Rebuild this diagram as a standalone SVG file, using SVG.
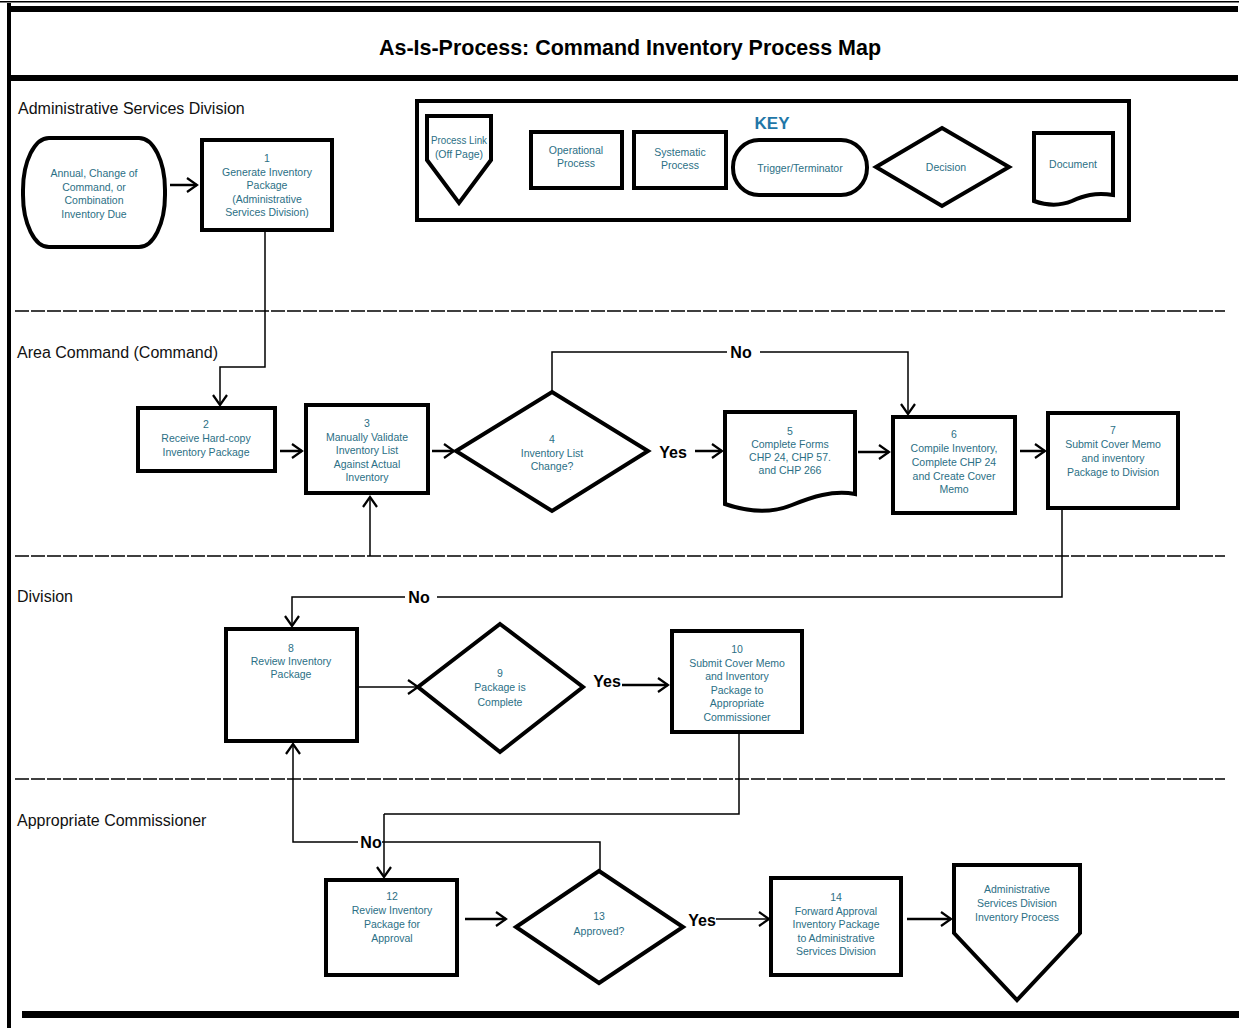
<svg xmlns="http://www.w3.org/2000/svg" width="1239" height="1028" viewBox="0 0 1239 1028">
<style>
.nd{fill:#fff;stroke:#000;stroke-width:4;stroke-linejoin:miter}
.t{font-family:"Liberation Sans",Arial,sans-serif;font-size:10.5px;fill:#2b6f85;text-anchor:middle}
.lane{font-family:"Liberation Sans",Arial,sans-serif;font-size:16px;fill:#111}
.lbl{font-family:"Liberation Sans",Arial,sans-serif;font-size:16px;font-weight:bold;fill:#000;text-anchor:middle}
.c{fill:none;stroke:#000;stroke-width:1.5}
.ca{fill:none;stroke:#000;stroke-width:1.5;marker-end:url(#ah)}
.a{fill:none;stroke:#000;stroke-width:2.5;marker-end:url(#ah)}
.sep{stroke:#000;stroke-width:1.5;stroke-dasharray:14 2}
.bar{fill:#000}
</style>
<defs>
<marker id="ah" markerUnits="userSpaceOnUse" markerWidth="14" markerHeight="16" refX="11" refY="8" orient="auto">
<path d="M1,1 L11,8 L1,15" fill="none" stroke="#000" stroke-width="2.2"/>
</marker>
</defs>
<rect width="1239" height="1028" fill="#fff"/>
<!-- frame -->
<g id="frame">
<rect class="bar" x="0" y="1" width="1239" height="1.5"/>
<rect class="bar" x="10" y="6" width="1228" height="6"/>
<rect class="bar" x="10" y="75" width="1228" height="6"/>
<rect class="bar" x="7" y="3" width="4" height="1025"/>
<rect class="bar" x="22" y="1011" width="1217" height="7"/>
<text x="630" y="55" text-anchor="middle" font-family="'Liberation Sans',Arial,sans-serif" font-size="22" font-weight="bold" fill="#000" textLength="502" lengthAdjust="spacingAndGlyphs">As-Is-Process: Command Inventory Process Map</text>
</g>
<!-- lanes -->
<g id="lanes">
<line class="sep" x1="15" y1="311" x2="1225" y2="311"/>
<line class="sep" x1="15" y1="556" x2="1225" y2="556"/>
<line class="sep" x1="15" y1="779" x2="1225" y2="779"/>
<text class="lane" x="18" y="114">Administrative Services Division</text>
<text class="lane" x="17" y="358">Area Command (Command)</text>
<text class="lane" x="17" y="602">Division</text>
<text class="lane" x="17" y="826">Appropriate Commissioner</text>
</g>
<!-- key -->
<g id="key">
<rect x="417" y="101" width="712" height="119" fill="#fff" stroke="#000" stroke-width="4"/>
<text x="772" y="129" text-anchor="middle" font-family="'Liberation Sans',Arial,sans-serif" font-size="17" font-weight="bold" fill="#1f77a8">KEY</text>
<path class="nd" d="M427,116 H491 V160 L459,203 L427,160 Z"/>
<text class="t" font-size="10"><tspan x="459" y="144" textLength="56" lengthAdjust="spacingAndGlyphs">Process Link</tspan><tspan x="459" y="158">(Off Page)</tspan></text>
<rect class="nd" x="531" y="132" width="91" height="56"/>
<text class="t"><tspan x="576" y="154">Operational</tspan><tspan x="576" y="167">Process</tspan></text>
<rect class="nd" x="634" y="132" width="92" height="56"/>
<text class="t"><tspan x="680" y="156">Systematic</tspan><tspan x="680" y="169">Process</tspan></text>
<rect class="nd" x="733" y="140" width="134" height="55" rx="26" ry="27"/>
<text class="t" x="800" y="172">Trigger/Terminator</text>
<path class="nd" d="M942,128 L1009,167 L942,206 L876,167 Z"/>
<text class="t" x="946" y="171">Decision</text>
<path class="nd" d="M1034,133 H1113 V195 C1095,192 1083,196 1072,201 C1060,206 1048,206 1034,201 Z"/>
<text class="t" x="1073" y="168">Document</text>
</g>
<!-- connectors -->
<g id="connectors">
<line class="a" x1="170" y1="185" x2="197" y2="185"/>
<polyline class="ca" points="265,230 265,367 220,367 220,405"/>
<line class="a" x1="280" y1="451" x2="302" y2="451"/>
<line class="ca" x1="370" y1="556" x2="370" y2="497"/>
<line class="a" x1="432" y1="451" x2="454" y2="451"/>
<polyline class="c" points="552,392 552,352 727,352"/>
<polyline class="ca" points="760,352 908,352 908,414"/>
<text class="lbl" x="741" y="358">No</text>
<text class="lbl" x="673" y="458">Yes</text>
<line class="a" x1="695" y1="451" x2="722" y2="451"/>
<line class="a" x1="858" y1="452" x2="889" y2="452"/>
<line class="a" x1="1020" y1="451" x2="1045" y2="451"/>
<polyline class="c" points="1062,508 1062,597 437,597"/>
<polyline class="ca" points="405,597 292,597 292,626"/>
<text class="lbl" x="419" y="603">No</text>
<line class="ca" x1="357" y1="687" x2="418" y2="687"/>
<text class="lbl" x="607" y="687">Yes</text>
<line class="a" x1="622" y1="685" x2="668" y2="685"/>
<polyline class="c" points="739,732 739,814 384,814"/>
<line class="ca" x1="384" y1="814" x2="384" y2="877"/>
<polyline class="ca" points="358,842 293,842 293,744"/>
<polyline class="c" points="382,842 600,842 600,871"/>
<text class="lbl" x="371" y="848">No</text>
<line class="a" x1="465" y1="919" x2="506" y2="919"/>
<text class="lbl" x="702" y="926">Yes</text>
<line class="ca" x1="716" y1="919" x2="769" y2="919"/>
<line class="a" x1="907" y1="919" x2="951" y2="919"/>
</g>
<!-- nodes -->
<g id="n0">
<rect class="nd" x="23" y="138" width="142" height="109" rx="26" ry="52"/>
<text class="t"><tspan x="94" y="177">Annual, Change of</tspan><tspan x="94" y="190.5">Command, or</tspan><tspan x="94" y="204">Combination</tspan><tspan x="94" y="217.5">Inventory Due</tspan></text>
</g>
<g id="n1">
<rect class="nd" x="202" y="140" width="130" height="90"/>
<text class="t"><tspan x="267" y="162">1</tspan><tspan x="267" y="175.5">Generate Inventory</tspan><tspan x="267" y="189">Package</tspan><tspan x="267" y="202.5">(Administrative</tspan><tspan x="267" y="216">Services Division)</tspan></text>
</g>
<g id="n2">
<rect class="nd" x="138" y="408" width="137" height="63"/>
<text class="t"><tspan x="206" y="428">2</tspan><tspan x="206" y="442">Receive Hard-copy</tspan><tspan x="206" y="456">Inventory Package</tspan></text>
</g>
<g id="n3">
<rect class="nd" x="306" y="405" width="122" height="88"/>
<text class="t"><tspan x="367" y="427">3</tspan><tspan x="367" y="440.5">Manually Validate</tspan><tspan x="367" y="454">Inventory List</tspan><tspan x="367" y="467.5">Against Actual</tspan><tspan x="367" y="481">Inventory</tspan></text>
</g>
<g id="n4">
<path class="nd" d="M552,392 L648,451 L552,511 L456,451 Z"/>
<text class="t"><tspan x="552" y="443">4</tspan><tspan x="552" y="456.5">Inventory List</tspan><tspan x="552" y="470">Change?</tspan></text>
</g>
<g id="n5">
<path class="nd" d="M725,412 H855 V494 C832,490 812,497 792,505 C772,513 748,512 725,504 Z"/>
<text class="t"><tspan x="790" y="435">5</tspan><tspan x="790" y="448">Complete Forms</tspan><tspan x="790" y="461">CHP 24, CHP 57.</tspan><tspan x="790" y="474">and CHP 266</tspan></text>
</g>
<g id="n6">
<rect class="nd" x="893" y="417" width="122" height="96"/>
<text class="t"><tspan x="954" y="438">6</tspan><tspan x="954" y="452">Compile Inventory,</tspan><tspan x="954" y="466">Complete CHP 24</tspan><tspan x="954" y="480">and Create Cover</tspan><tspan x="954" y="493">Memo</tspan></text>
</g>
<g id="n7">
<rect class="nd" x="1048" y="413" width="130" height="95"/>
<text class="t"><tspan x="1113" y="434">7</tspan><tspan x="1113" y="448">Submit Cover Memo</tspan><tspan x="1113" y="462">and inventory</tspan><tspan x="1113" y="476">Package to Division</tspan></text>
</g>
<g id="n8">
<rect class="nd" x="226" y="629" width="131" height="112"/>
<text class="t"><tspan x="291" y="652">8</tspan><tspan x="291" y="665">Review Inventory</tspan><tspan x="291" y="678">Package</tspan></text>
</g>
<g id="n9">
<path class="nd" d="M500,624 L583,687 L500,752 L418,687 Z"/>
<text class="t"><tspan x="500" y="677">9</tspan><tspan x="500" y="691">Package is</tspan><tspan x="500" y="706">Complete</tspan></text>
</g>
<g id="n10">
<rect class="nd" x="672" y="631" width="130" height="101"/>
<text class="t"><tspan x="737" y="653">10</tspan><tspan x="737" y="666.5">Submit Cover Memo</tspan><tspan x="737" y="680">and Inventory</tspan><tspan x="737" y="693.5">Package to</tspan><tspan x="737" y="707">Appropriate</tspan><tspan x="737" y="720.5">Commissioner</tspan></text>
</g>
<g id="n12">
<rect class="nd" x="326" y="880" width="131" height="95"/>
<text class="t"><tspan x="392" y="900">12</tspan><tspan x="392" y="914">Review Inventory</tspan><tspan x="392" y="928">Package for</tspan><tspan x="392" y="942">Approval</tspan></text>
</g>
<g id="n13">
<path class="nd" d="M599,871 L683,927 L599,983 L516,927 Z"/>
<text class="t"><tspan x="599" y="920">13</tspan><tspan x="599" y="935">Approved?</tspan></text>
</g>
<g id="n14">
<rect class="nd" x="771" y="878" width="130" height="97"/>
<text class="t"><tspan x="836" y="901">14</tspan><tspan x="836" y="914.5">Forward Approval</tspan><tspan x="836" y="928">Inventory Package</tspan><tspan x="836" y="941.5">to Administrative</tspan><tspan x="836" y="955">Services Division</tspan></text>
</g>
<g id="n15">
<path class="nd" d="M954,865 H1080 V933 L1017,1000 L954,933 Z"/>
<text class="t"><tspan x="1017" y="893">Administrative</tspan><tspan x="1017" y="907">Services Division</tspan><tspan x="1017" y="921">Inventory Process</tspan></text>
</g>
</svg>
